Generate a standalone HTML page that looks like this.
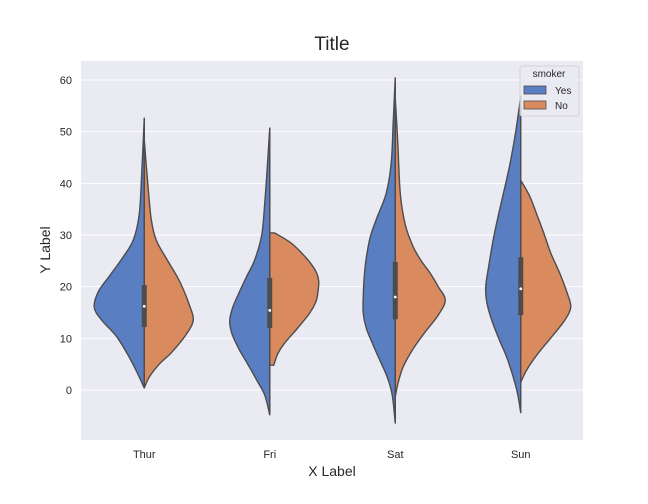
<!DOCTYPE html>
<html><head><meta charset="utf-8"><style>
body{margin:0;background:#fff}
svg{display:block;font-family:"Liberation Sans",sans-serif}
</style></head><body>
<svg id="chart" width="648" height="504" viewBox="0 0 648 504">
<rect x="81" y="61" width="502" height="379" fill="#eaeaf2"/>
<g id="grid"></g>
<g id="violins"></g>
<g id="axes"></g>
<text x="332" y="50" font-size="19" text-anchor="middle" fill="#262626">Title</text>
<text x="332" y="476" font-size="14" text-anchor="middle" fill="#262626">X Label</text>
<text x="50" y="250" font-size="14" text-anchor="middle" fill="#262626" transform="rotate(-90 50 250)">Y Label</text>
<g>
<rect x="520" y="66" width="59" height="50" rx="2" fill="#eaeaf2" fill-opacity="0.8" stroke="#cccccc" stroke-width="0.8"/>
<text x="549" y="77" font-size="10" text-anchor="middle" fill="#262626">smoker</text>
<rect x="524" y="86" width="22" height="8" fill="#5a7ec2" stroke="#4c4c4c" stroke-width="0.8"/>
<text x="555" y="94" font-size="10" fill="#262626">Yes</text>
<rect x="524" y="101" width="22" height="8" fill="#d98b5f" stroke="#4c4c4c" stroke-width="0.8"/>
<text x="555" y="109" font-size="10" fill="#262626">No</text>
</g>
</svg>
<script>
const categories = ["Thur","Fri","Sat","Sun"];
const yTicks = [0,10,20,30,40,50,60];
// density profiles: [value, relative half-width 0..1]
const yesProfiles = [
 [[0.4,0],[2.5,0.1],[6,0.28],[10.3,0.55],[13.5,0.85],[16,1],[19,0.92],[22,0.7],[25.5,0.44],[29,0.22],[34,0.1],[42,0.05],[52.6,0]],
 [[-4.8,0],[-1,0.1],[1.9,0.26],[5,0.44],[8,0.62],[11,0.76],[13.5,0.8],[16,0.74],[18.7,0.62],[22,0.46],[25.2,0.3],[30,0.16],[36.2,0.1],[43,0.05],[50.7,0]],
 [[-6.4,0],[-1,0.06],[2.5,0.16],[6,0.32],[9.1,0.46],[12,0.58],[14.9,0.64],[18,0.64],[21.9,0.62],[25.5,0.58],[29.6,0.5],[33,0.38],[38.1,0.18],[44,0.08],[52,0.04],[60.4,0]],
 [[-4.4,0],[0,0.08],[5.8,0.26],[9.5,0.42],[13.5,0.58],[17,0.68],[20,0.7],[24,0.64],[29.6,0.54],[35,0.42],[40,0.3],[44.5,0.2],[50,0.1],[56.8,0]]
];
const noProfiles = [
 [[0.4,0],[2.5,0.1],[5,0.3],[7.2,0.54],[10.5,0.82],[13.5,0.98],[16.5,0.9],[19.5,0.78],[21.9,0.66],[25.5,0.44],[29,0.24],[33,0.14],[40,0.07],[48.4,0]],
 [[4.8,0.08],[7,0.16],[9.1,0.3],[12,0.56],[14.9,0.8],[17,0.92],[18.7,0.96],[21,0.98],[22.6,0.94],[24.5,0.82],[26.5,0.64],[28.5,0.42],[30.4,0.1]],
 [[-1.3,0],[1.5,0.06],[4.5,0.16],[8,0.36],[11,0.58],[14.5,0.86],[17.4,1],[20,0.86],[22.6,0.7],[25,0.52],[27.7,0.36],[32,0.2],[38.1,0.1],[48,0.05],[56.5,0]],
 [[1.5,0],[3.9,0.12],[7,0.34],[10.3,0.62],[13.5,0.88],[16.1,1],[19,0.92],[22.6,0.78],[26.5,0.6],[30.4,0.46],[34,0.32],[37.5,0.18],[40.6,0]]
];
const boxLow = [12.2,12,13.7,14.5];
const boxHigh = [20.3,21.7,24.8,25.7];
const medians = [16.2,15.4,18,19.6];
const whiskLow = [0.4,-4.8,-6.4,7.8];
const whiskHigh = [52.6,50.7,60.4,40.6];

const NS="http://www.w3.org/2000/svg";
const X0=81,X1=583,Y0=61,Y1=440;
const yScale=v=>390-(v)*(310/60);
const band=(X1-X0)/categories.length;
const xCenter=i=>X0+band*(i+0.5)+0.5;
const halfMax=50;
function mk(tag,attrs,parent){const e=document.createElementNS(NS,tag);for(const k in attrs)e.setAttribute(k,attrs[k]);parent.appendChild(e);return e;}
const grid=document.getElementById('grid'),axes=document.getElementById('axes'),vg=document.getElementById('violins');
yTicks.forEach(t=>{
 const g=mk('line',{x1:X0,x2:X1,y1:yScale(t),y2:yScale(t),stroke:'#fff','stroke-width':1},grid);
 
 
 const l=mk('text',{x:72,y:yScale(t)+4,'font-size':11,'text-anchor':'end',fill:'#262626'},axes);
 l.textContent=t;
 
 
});
categories.forEach((c,i)=>{
 const l=mk('text',{x:xCenter(i),y:458,'font-size':11,'text-anchor':'middle',fill:'#262626'},axes);
 l.textContent=c;
 
 
});
function spline(pts){
 let d='';
 for(let i=0;i<pts.length-1;i++){
  const p0=pts[Math.max(0,i-1)],p1=pts[i],p2=pts[i+1],p3=pts[Math.min(pts.length-1,i+2)];
  const c1=[p1[0]+(p2[0]-p0[0])/6,p1[1]+(p2[1]-p0[1])/6];
  const c2=[p2[0]-(p3[0]-p1[0])/6,p2[1]-(p3[1]-p1[1])/6];
  d+=` C${c1[0].toFixed(2)},${c1[1].toFixed(2)} ${c2[0].toFixed(2)},${c2[1].toFixed(2)} ${p2[0].toFixed(2)},${p2[1].toFixed(2)}`;
 }
 return d;
}
function half(i,prof,side,color,name){
 const cx=xCenter(i);
 const pts=prof.map(p=>[cx+side*p[1]*halfMax,yScale(p[0])]);
 const first=prof[0],last=prof[prof.length-1];
 let d=`M${cx},${yScale(first[0])} L${pts[0][0]},${pts[0][1]}`+spline(pts)+` L${cx},${yScale(last[0])} Z`;
 const p=mk('path',{d:d,fill:color,stroke:'#4c4c4c','stroke-width':1.4,'stroke-linejoin':'round'},vg);
 
 
}
categories.forEach((c,i)=>{
 const k=c.toLowerCase();
 half(i,yesProfiles[i],-1,'#5a7ec2','violin-'+k+'-yes');
 half(i,noProfiles[i],1,'#d98b5f','violin-'+k+'-no');
 const cx=xCenter(i);
 const w=mk('line',{x1:cx,x2:cx,y1:yScale(whiskLow[i]),y2:yScale(whiskHigh[i]),stroke:'#4c4c4c','stroke-width':1.5},vg);
 
 
 const b=mk('line',{x1:cx,x2:cx,y1:yScale(boxLow[i]),y2:yScale(boxHigh[i]),stroke:'#4c4c4c','stroke-width':5},vg);
 
 
 const m=mk('circle',{cx:cx,cy:yScale(medians[i]),r:1.4,fill:'#fff'},vg);
 
 
});
</script>
</body></html>
